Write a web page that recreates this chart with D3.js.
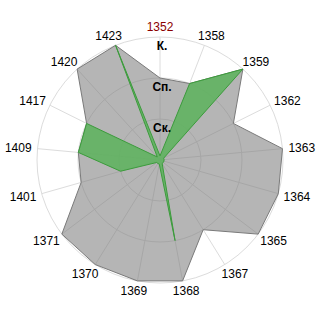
<!DOCTYPE html>
<html>
<head>
<meta charset="utf-8">
<script src="https://cdn.jsdelivr.net/npm/d3@7"></script>
<style>
  html, body { margin: 0; padding: 0; background: #fff; }
  svg { display: block; font-family: "Liberation Sans", Arial, sans-serif; }
</style>
</head>
<body>
<svg id="chart" width="320" height="320"></svg>
<script>
// categories clockwise from the top
const categories = ['1352','1358','1359','1362','1363','1364','1365','1367','1368',
                    '1369','1370','1371','1401','1409','1417','1420','1423'];
// level labels (1 = Ск., 2 = Сп., 3 = К.)
const levels = ['Ск.', 'Сп.', 'К.'];
// grey series
const greyValues  = [2, 2, 3, 2, 3, 3, 3, 2, 3, 3, 3, 3, 2, 2, 2, 3, 3];
// green series
const greenValues = [0.1, 2, 3, 0.1, 0.1, 0.1, 0.1, 0.1, 2, 0.1, 0.1, 0.1, 1, 2, 2, 0.1, 3];

const svg = d3.select('#chart');
const cx = 160, cy = 160;
const R = 123;

const r = d3.scaleLinear().domain([0, levels.length]).range([0, R]);
// angle per category (index based, clockwise from 12 o'clock)
const step = 2 * Math.PI / categories.length;
const ang = c => categories.indexOf(c) * step;

const g = svg.append('g').attr('transform', `translate(${cx},${cy})`);

// grid rings
g.selectAll('.ring').data(d3.range(1, levels.length + 1)).join('circle')
  .attr('r', d => r(d))
  .attr('fill', 'none')
  .attr('stroke', '#dcdcdc')
  .attr('stroke-width', 1);

// spokes
g.selectAll('.spoke').data(categories).join('line')
  .attr('x1', 0).attr('y1', 0)
  .attr('x2', d => R * Math.sin(ang(d)))
  .attr('y2', d => -R * Math.cos(ang(d)))
  .attr('stroke', '#dcdcdc')
  .attr('stroke-width', 1);

const radial = d3.lineRadial()
  .angle((d, i) => i * step)
  .radius(d => r(d))
  .curve(d3.curveLinearClosed);

// grey area (semi-transparent so the grid shows through)
g.append('path')
  .attr('d', radial(greyValues))
  .attr('fill', 'rgb(128,128,128)')
  .attr('fill-opacity', 0.58)
  .attr('stroke', '#7a7a7a')
  .attr('stroke-width', 1);

// green area
g.append('path')
  .attr('d', radial(greenValues))
  .attr('fill', 'rgb(96,178,96)')
  .attr('fill-opacity', 0.9)
  .attr('stroke', '#3c9c3c')
  .attr('stroke-width', 1);

// level labels
g.selectAll('.lvl').data(levels).join('text')
  .attr('x', 2)
  .attr('y', (d, i) => -r(i + 1) + 13)
  .attr('text-anchor', 'middle')
  .attr('font-size', 12)
  .attr('font-weight', 'bold')
  .attr('fill', '#000')
  .text(d => d);

// category labels, anchored by side
const labelR = 129, capH = 8.6;
g.selectAll('.cat').data(categories).join('text')
  .attr('font-size', 12)
  .attr('fill', (d, i) => i === 0 ? '#8b0000' : '#000')
  .text(d => d)
  .each(function(d) {
    const a = ang(d);
    const s = Math.sin(a), c = Math.cos(a);
    const w = this.getComputedTextLength();
    const px = labelR * s, py = -labelR * c;
    d3.select(this)
      .attr('x', px - w * (1 - s) / 2)
      .attr('y', py + capH * (1 - c) / 2);
  });
</script>
</body>
</html>
